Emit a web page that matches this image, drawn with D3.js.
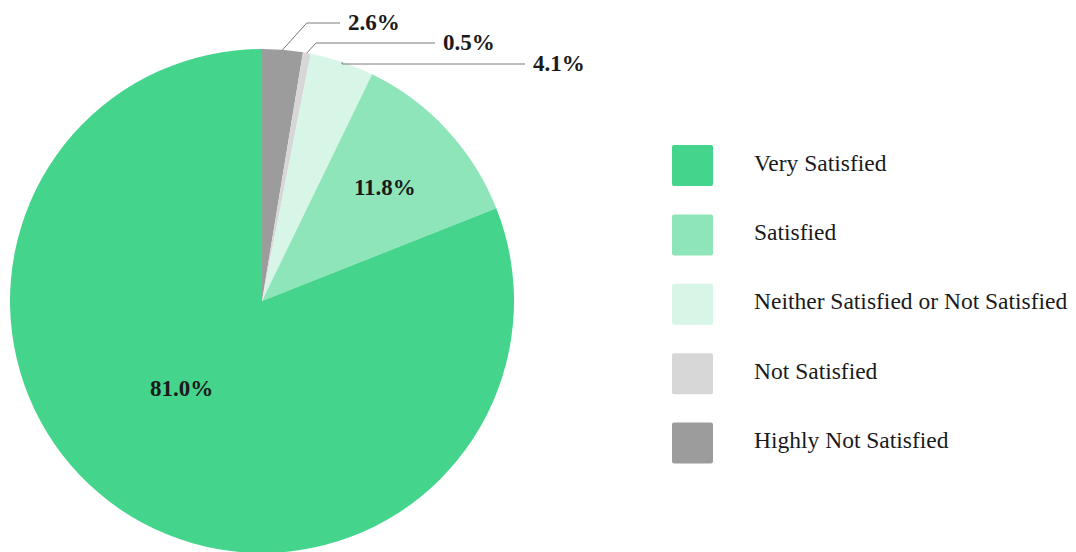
<!DOCTYPE html>
<html>
<head>
<meta charset="utf-8">
<script src="https://cdn.jsdelivr.net/npm/d3@7"></script>
<style>
  html, body { margin: 0; padding: 0; background: #fff; }
  svg text { font-family: "Liberation Serif", serif; }
</style>
</head>
<body>
<svg id="chart" width="1076" height="552" font-family="Liberation Serif"></svg>
<script>
// ---- Data ----
const categories = ["Very Satisfied", "Satisfied", "Neither Satisfied or Not Satisfied", "Not Satisfied", "Highly Not Satisfied"];
const values = [81.0, 11.8, 4.1, 0.5, 2.6];
const colors = ["#44D48B", "#8EE5BA", "#D8F6E7", "#D7D7D7", "#9C9C9C"];
const insideLabels = ["Very Satisfied", "Satisfied"];

// ---- Layout ----
const cx = 262, cy = 301, R = 252;
const svg = d3.select("#chart");

const data = categories.map((c, i) => ({ name: c, value: values[i], color: colors[i] }));
// Drawn clockwise from 12 o'clock in reverse legend order
const pieOrder = data.slice().reverse();

const pie = d3.pie().sort(null).value(d => d.value).startAngle(0).endAngle(2 * Math.PI);
const arcs = pie(pieOrder);
const arc = d3.arc().innerRadius(0).outerRadius(R);

const g = svg.append("g").attr("transform", `translate(${cx},${cy})`);
g.selectAll("path.slice").data(arcs).enter().append("path")
  .attr("class", "slice")
  .attr("d", arc)
  .attr("fill", d => d.data.color);

// Inside labels (label radius factor and angular nudge per slice)
const insideCfg = {
  "Satisfied": { rf: 0.665, nudge: 0 },
  "Very Satisfied": { rf: 0.47, nudge: 8.5 * Math.PI / 180 }
};
arcs.filter(d => insideLabels.includes(d.data.name)).forEach(d => {
  const cfg = insideCfg[d.data.name];
  const a = (d.startAngle + d.endAngle) / 2 + cfg.nudge;
  const r = R * cfg.rf;
  g.append("text")
    .attr("x", r * Math.sin(a)).attr("y", -r * Math.cos(a))
    .attr("text-anchor", "middle")
    .attr("dy", "0.35em")
    .attr("font-family", "Liberation Serif")
    .attr("font-weight", "bold")
    .attr("font-size", 23)
    .attr("fill", "#1a1a1a")
    .text(d3.format(".1f")(d.data.value) + "%");
});

// Outside labels with leader lines
const outsideCfg = {
  "Highly Not Satisfied": { ly: 23, lineEnd: 340 },
  "Not Satisfied": { ly: 43, lineEnd: 435 },
  "Neither Satisfied or Not Satisfied": { ly: 64, lineEnd: 525 }
};
arcs.filter(d => !insideLabels.includes(d.data.name)).forEach(d => {
  const cfg = outsideCfg[d.data.name];
  const a = (d.startAngle + d.endAngle) / 2;
  const sx = cx + R * Math.sin(a), sy = cy - R * Math.cos(a);
  const rise = Math.max(0, sy - cfg.ly);
  const ex = sx + rise * 0.9;
  svg.append("polyline")
    .attr("points", [[sx, sy], [ex, cfg.ly], [cfg.lineEnd, cfg.ly]].map(p => p.join(",")).join(" "))
    .attr("fill", "none")
    .attr("stroke", "#7a7a7a")
    .attr("stroke-width", 1);
  svg.append("text")
    .attr("x", cfg.lineEnd + 8).attr("y", cfg.ly)
    .attr("dy", "0.3em")
    .attr("font-family", "Liberation Serif")
    .attr("font-weight", "bold")
    .attr("font-size", 23)
    .attr("fill", "#1a1a1a")
    .text(d3.format(".1f")(d.data.value) + "%");
});

// Legend
const legend = svg.append("g").attr("transform", "translate(672,145)");
const ly = d3.scaleBand().domain(categories).range([0, 347]).paddingInner(0);
const items = legend.selectAll("g.item").data(data).enter().append("g")
  .attr("class", "item")
  .attr("transform", d => `translate(0,${ly(d.name)})`);
items.append("rect")
  .attr("width", 41).attr("height", 41).attr("rx", 2)
  .attr("fill", d => d.color);
items.append("text")
  .attr("x", 82).attr("y", 25.5)
  .attr("font-family", "Liberation Serif")
  .attr("font-size", 23.5)
  .attr("fill", "#1a1a1a")
  .text(d => d.name);
</script>
</body>
</html>
